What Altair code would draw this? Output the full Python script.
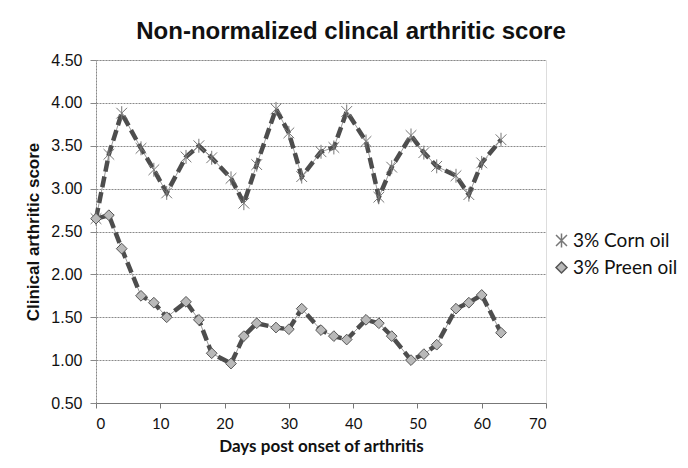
import altair as alt
import pandas as pd

days = [0, 2, 4, 7, 9, 11, 14, 16, 18, 21, 23, 25, 28, 30, 32, 35, 37, 39, 42, 44, 46, 49, 51, 53, 56, 58, 60, 63]
corn_oil = [2.65, 3.40, 3.88, 3.47, 3.22, 2.95, 3.37, 3.50, 3.36, 3.12, 2.83, 3.28, 3.93, 3.65, 3.14,
            3.43, 3.48, 3.90, 3.55, 2.90, 3.25, 3.62, 3.42, 3.26, 3.15, 2.93, 3.30, 3.57]
preen_oil = [2.65, 2.69, 2.30, 1.75, 1.67, 1.50, 1.68, 1.47, 1.08, 0.96, 1.28, 1.43, 1.38, 1.36, 1.60,
             1.35, 1.28, 1.24, 1.47, 1.43, 1.28, 1.00, 1.07, 1.18, 1.60, 1.67, 1.76, 1.32]
series_names = ["3% Corn oil", "3% Preen oil"]
y_ticks = [0.5, 1.0, 1.5, 2.0, 2.5, 3.0, 3.5, 4.0, 4.5]
x_ticks = [0, 10, 20, 30, 40, 50, 60, 70]

rows = []
for d, v in zip(days, corn_oil):
    rows.append({"day": d, "score": v, "series": series_names[0]})
for d, v in zip(days, preen_oil):
    rows.append({"day": d, "score": v, "series": series_names[1]})
df = pd.DataFrame(rows)

arial = "Liberation Sans, Arial, sans-serif"
calib = "Lato, Open Sans, sans-serif"

x = alt.X("day:Q", scale=alt.Scale(domain=[0, 70], nice=False),
          axis=alt.Axis(values=x_ticks, title="Days post onset of arthritis", grid=False,
                        labelFont=calib, labelFontSize=15, labelColor="#111",
                        titleFont=calib, titleFontSize=17, titleFontWeight="bold", titleColor="#111",
                        titlePadding=7, labelPadding=8, tickSize=5, tickColor="#777",
                        domainColor="#777"))
y = alt.Y("score:Q", scale=alt.Scale(domain=[0.5, 4.5], nice=False, zero=False),
          axis=alt.Axis(values=y_ticks, format=".2f", title="Clinical arthritic score",
                        labelFont=arial, labelFontSize=16, labelColor="#111",
                        titleFont=arial, titleFontSize=17, titleFontWeight="bold", titleColor="#111",
                        titlePadding=8, labelPadding=8, tickSize=6, tickColor="#888",
                        domainColor="#888", domainDash=[2, 1],
                        gridColor="#8a8a8a", gridDash=[2, 1], gridWidth=1))

base = alt.Chart(df)

thin = base.mark_line(color="#9a9a9a", strokeWidth=1).encode(x=x, y=y, detail="series:N")
thick = base.mark_line(color="#4d4d4d", strokeWidth=4.5, strokeDash=[11, 5]).encode(
    x=x, y=y, detail="series:N")

asterisk = "M-1,-1L1,1M1,-1L-1,1M0,-1.3L0,1.3"
leg = alt.Legend(title=None, orient="none", legendX=456, legendY=171,
                 labelFont=calib, labelFontSize=19, labelColor="#111", labelLimit=200,
                 symbolSize=120, rowPadding=7, labelOffset=2)
points = base.mark_point(filled=False, opacity=1, strokeWidth=1).encode(
    x=x, y=y,
    shape=alt.Shape("series:N", scale=alt.Scale(domain=series_names, range=[asterisk, "diamond"]),
                    legend=leg),
    fill=alt.Fill("series:N", scale=alt.Scale(domain=series_names, range=["#888888", "#b9b9b9"]),
                  legend=leg),
    stroke=alt.Stroke("series:N", scale=alt.Scale(domain=series_names, range=["#777777", "#555555"]),
                      legend=leg),
    size=alt.value(115),
)

chart = alt.layer(thin, thick, points).properties(
    width=450, height=343,
    title=alt.TitleParams("Non-normalized clincal arthritic score", font=arial, fontSize=24,
                          fontWeight="bold", color="#111", anchor="middle", offset=8, dx=30),
    autosize=alt.AutoSizeParams(type="none"),
    padding={"left": 88, "top": 52, "right": 134, "bottom": 57},
).configure_view(stroke=None).configure(background="white")

chart.save("out.html", embed_options={"renderer": "svg", "actions": False})
